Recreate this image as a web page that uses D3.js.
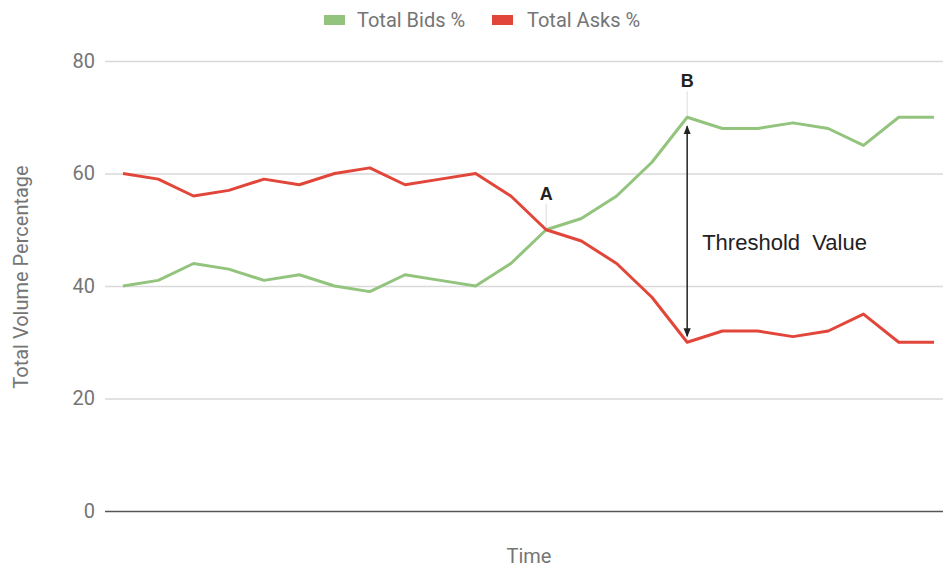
<!DOCTYPE html>
<html>
<head>
<meta charset="utf-8">
<script src="https://cdn.jsdelivr.net/npm/d3@7"></script>
<style>
  html, body { margin: 0; padding: 0; background: #fff; }
  svg { display: block; }
</style>
</head>
<body>
<svg id="chart" width="943" height="569"></svg>
<script>
// Time steps along the x axis (unlabelled)
const steps = d3.range(24);
const bidsPct = [40, 41, 44, 43, 41, 42, 40, 39, 42, 41, 40, 44, 50, 52, 56, 62, 70, 68, 68, 69, 68, 65, 70, 70];
const asksPct = [60, 59, 56, 57, 59, 58, 60, 61, 58, 59, 60, 56, 50, 48, 44, 38, 30, 32, 32, 31, 32, 35, 30, 30];
const yTicks = [0, 20, 40, 60, 80];
const seriesNames = ["Total Bids %", "Total Asks %"];
const seriesColors = ["#93c47d", "#e2463a"];
// Annotated points: crossover (A) and peak (B)
const markers = [{ label: "A", index: 12 }, { label: "B", index: 16 }];
const thresholdIndex = 16;

const svg = d3.select("#chart");
const gridLeft = 105, gridRight = 943;
const axisFont = "Roboto, sans-serif";

const x = d3.scalePoint().domain(steps).range([123, 934]);
const y = d3.scaleLinear().domain([0, 80]).range([511, 61]);

// Gridlines and tick labels
const yAxis = d3.axisLeft(y).tickValues(yTicks).tickSize(-(gridRight - gridLeft)).tickPadding(10);
const gAxis = svg.append("g").attr("transform", `translate(${gridLeft},0)`).call(yAxis);
gAxis.select(".domain").remove();
gAxis.selectAll(".tick line")
  .attr("stroke", d => d === 0 ? "#555" : "#d9d9d9")
  .attr("stroke-width", d => d === 0 ? 1.6 : 1.3);
gAxis.selectAll(".tick text")
  .attr("x", -10)
  .attr("fill", "#757575")
  .style("font-family", axisFont)
  .style("font-size", "20px");

// Axis titles
svg.append("text")
  .attr("transform", `translate(21,${277}) rotate(-90)`)
  .attr("text-anchor", "middle")
  .attr("dy", "0.35em")
  .attr("fill", "#757575")
  .style("font-family", axisFont)
  .style("font-size", "20px")
  .text("Total Volume Percentage");

svg.append("text")
  .attr("x", 529)
  .attr("y", 563)
  .attr("text-anchor", "middle")
  .attr("fill", "#757575")
  .style("font-family", axisFont)
  .style("font-size", "20px")
  .text("Time");

// Marker stems for A and B
markers.forEach(m => {
  const top = Math.max(bidsPct[m.index], asksPct[m.index]);
  const py = y(top);
  svg.append("line")
    .attr("x1", x(m.index)).attr("x2", x(m.index))
    .attr("y1", py).attr("y2", py - 26)
    .attr("stroke", "#ddd").attr("stroke-width", 1);
  svg.append("text")
    .attr("x", x(m.index))
    .attr("y", py - 30)
    .attr("text-anchor", "middle")
    .attr("fill", "#222")
    .style("font-family", "'Liberation Sans', Arial, sans-serif")
    .style("font-weight", "bold")
    .style("font-size", "18px")
    .text(m.label);
});

// Series lines
const line = d3.line().x((d, i) => x(steps[i])).y(d => y(d));
[bidsPct, asksPct].forEach((vals, k) => {
  svg.append("path")
    .datum(vals)
    .attr("fill", "none")
    .attr("stroke", seriesColors[k])
    .attr("stroke-width", 3)
    .attr("stroke-linejoin", "round")
    .attr("d", line);
});

// Double-headed arrow showing the threshold gap
const defs = svg.append("defs");
defs.append("marker")
  .attr("id", "head")
  .attr("viewBox", "0 0 10 10")
  .attr("refX", 9).attr("refY", 5)
  .attr("markerWidth", 6).attr("markerHeight", 6)
  .attr("orient", "auto-start-reverse")
  .attr("markerUnits", "strokeWidth")
  .append("path")
  .attr("d", "M0,1 L10,5 L0,9 Z")
  .attr("fill", "#222");

const ax = x(thresholdIndex);
svg.append("line")
  .attr("x1", ax).attr("x2", ax)
  .attr("y1", y(bidsPct[thresholdIndex]) + 9)
  .attr("y2", y(asksPct[thresholdIndex]) - 6)
  .attr("stroke", "#222")
  .attr("stroke-width", 1.5)
  .attr("marker-start", "url(#head)")
  .attr("marker-end", "url(#head)");

svg.append("text")
  .attr("x", ax + 15)
  .attr("y", 250)
  .attr("fill", "#222")
  .style("font-family", "'Liberation Sans', Arial, sans-serif")
  .style("font-size", "22px")
  .style("white-space", "pre")
  .text("Threshold  Value");

// Legend
const legend = svg.append("g");
const legendItems = [{ x: 324, tx: 357 }, { x: 492, tx: 527 }];
seriesNames.forEach((name, k) => {
  legend.append("rect")
    .attr("x", legendItems[k].x).attr("y", 15)
    .attr("width", 21).attr("height", 10)
    .attr("fill", seriesColors[k]);
  legend.append("text")
    .attr("x", legendItems[k].tx).attr("y", 20)
    .attr("dy", "0.35em")
    .attr("fill", "#757575")
    .style("font-family", axisFont)
    .style("font-size", "20px")
    .text(name);
});
</script>
</body>
</html>
